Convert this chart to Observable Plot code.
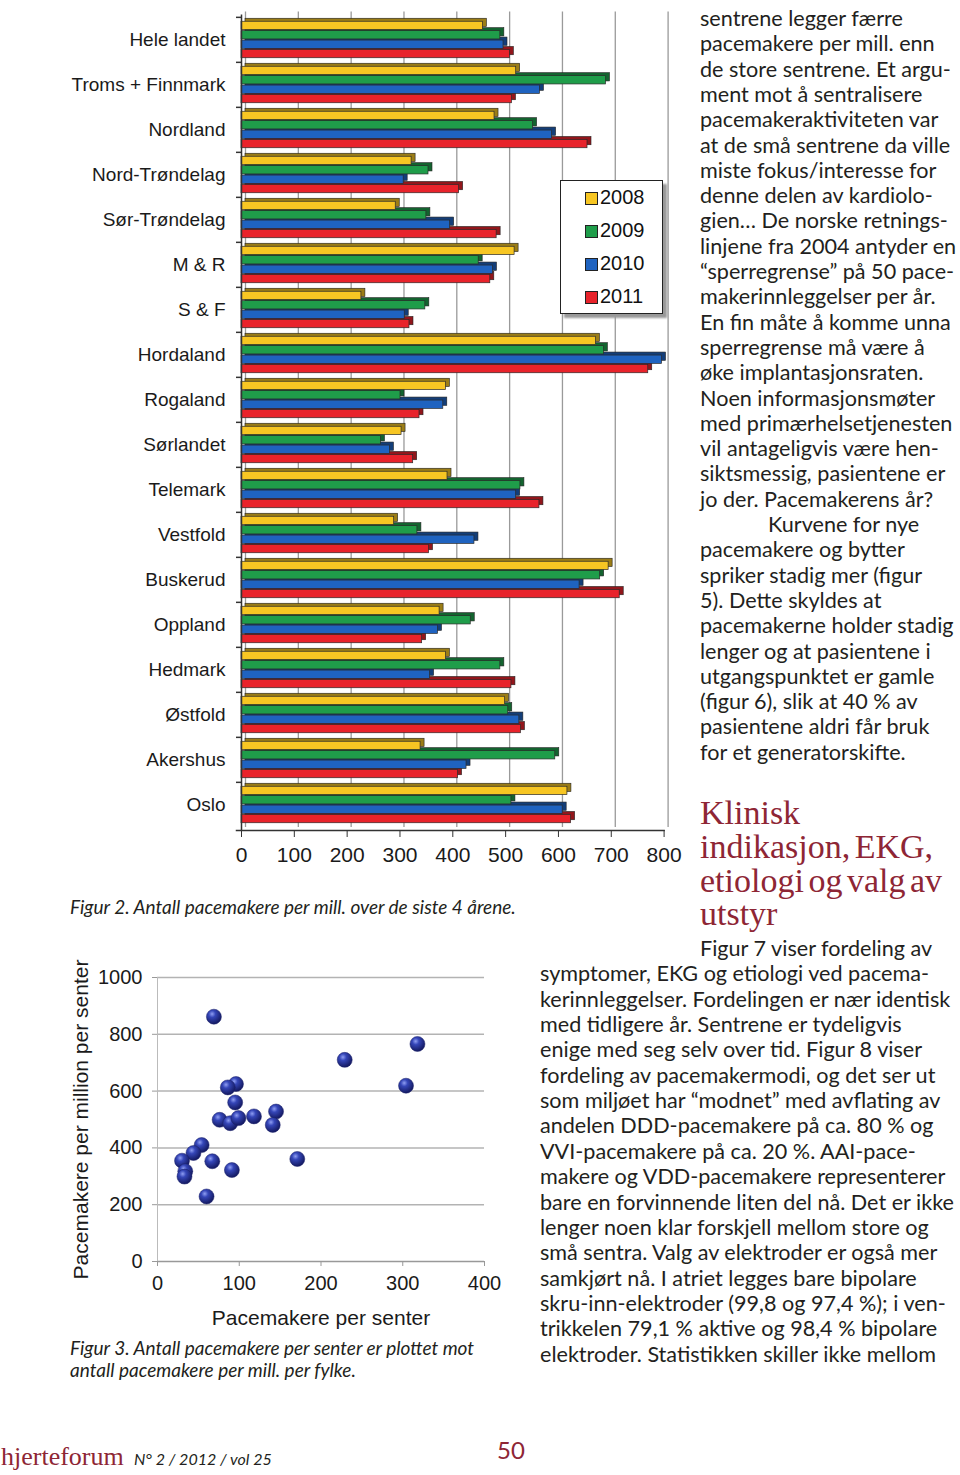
<!DOCTYPE html>
<html><head><meta charset="utf-8">
<script src="https://cdn.jsdelivr.net/npm/d3@7"></script>
<script src="https://cdn.jsdelivr.net/npm/@observablehq/plot@0.6"></script>
<style>
html,body{margin:0;padding:0;background:#fff;}
#page{position:relative;width:960px;height:1475px;overflow:hidden;background:#fff;}
.abs{position:absolute;}
.line{position:absolute;white-space:nowrap;font-family:Lato,"Open Sans",sans-serif;font-size:21.6px;color:#231f20;line-height:25px;}
.head{position:absolute;white-space:nowrap;font-family:"Liberation Serif","DejaVu Serif",serif;font-size:34px;color:#8e2635;line-height:33px;word-spacing:-4px;}
.cap{position:absolute;white-space:nowrap;font-family:Lato,"Open Sans",sans-serif;font-style:italic;font-size:19px;color:#231f20;line-height:22px;}
#legend{position:absolute;left:560px;top:180px;width:101px;height:132px;border:1.5px solid #222;background:#fff;box-shadow:4px 4px 2px #999;font-family:"Liberation Sans",Arial,sans-serif;font-size:20px;color:#111;}
.li{position:absolute;left:24px;height:24px;line-height:24px;}
.sw{display:inline-block;width:11px;height:11px;border:1.5px solid #222;margin-right:2px;vertical-align:-1px;}
</style></head>
<body><div id="page"></div>
<script>
// ---------- Figure 2 data ----------
const regions = ["Hele landet","Troms + Finnmark","Nordland","Nord-Trøndelag","Sør-Trøndelag","M & R","S & F","Hordaland","Rogaland","Sørlandet","Telemark","Vestfold","Buskerud","Oppland","Hedmark","Østfold","Akershus","Oslo"];
const years = ["2008","2009","2010","2011"];
const v2008 = [457,520,479,322,292,517,227,671,387,303,390,289,695,375,387,499,339,617];
const v2009 = [490,690,552,354,350,449,348,686,301,264,528,333,679,434,490,505,594,511];
const v2010 = [496,565,588,307,395,476,309,796,382,281,520,441,640,372,357,526,426,608];
const v2011 = [508,512,655,412,483,471,318,770,337,325,564,355,716,342,511,529,410,624];
const yearColors = ["#f7c623","#1f9d4a","#1f63c0","#e8232b"];
const xTicks = [0,100,200,300,400,500,600,700,800];

// ---------- Figure 3 data ----------
const perCenter = [69,318,229,304,96,86,95,76,89,99,118,145,141,54,44,30,67,171,91,34,33,60];
const perMill   = [862,766,710,619,625,613,560,499,487,505,511,528,481,410,382,355,353,361,322,318,299,229];
const yTicks3 = [0,200,400,600,800,1000];
const xTicks3 = [0,100,200,300,400];

// ---------- Text ----------
const col1 = ["sentrene legger færre","pacemakere per mill. enn","de store sentrene. Et argu-","ment mot å sentralisere","pacemakeraktiviteten var","at de små sentrene da ville","miste fokus/interesse for","denne delen av kardiolo-","gien… De norske retnings-","linjene fra 2004 antyder en","“sperregrense” på 50 pace-","makerinnleggelser per år.","En fin måte å komme unna","sperregrense må være å","øke implantasjonsraten.","Noen informasjonsmøter","med primærhelsetjenesten","vil antageligvis være hen-","siktsmessig, pasientene er","jo der. Pacemakerens år?","Kurvene for nye","pacemakere og bytter","spriker stadig mer (figur","5). Dette skyldes at","pacemakerne holder stadig","lenger og at pasientene i","utgangspunktet er gamle","(figur 6), slik at 40 % av","pasientene aldri får bruk","for et generatorskifte."];
const headLines = ["Klinisk","indikasjon, EKG,","etiologi og valg av","utstyr"];
const col2 = ["Figur 7 viser fordeling av","symptomer, EKG og etiologi ved pacema-","kerinnleggelser. Fordelingen er nær identisk","med tidligere år. Sentrene er tydeligvis","enige med seg selv over tid. Figur 8 viser","fordeling av pacemakermodi, og det ser ut","som miljøet har “modnet” med avflating av","andelen DDD-pacemakere på ca. 80 % og","VVI-pacemakere på ca. 20 %. AAI-pace-","makere og VDD-pacemakere representerer","bare en forvinnende liten del nå. Det er ikke","lenger noen klar forskjell mellom store og","små sentra. Valg av elektroder er også mer","samkjørt nå. I atriet legges bare bipolare","skru-inn-elektroder (99,8 og 97,4 %); i ven-","trikkelen 79,1 % aktive og 98,4 % bipolare","elektroder. Statistikken skiller ikke mellom"];
const cap2 = "Figur 2. Antall pacemakere per mill. over de siste 4 årene.";
const cap3 = ["Figur 3. Antall pacemakere per senter er plottet mot","antall pacemakere per mill. per fylke."];

const page = document.getElementById("page");
function add(html){ const d=document.createElement("div"); d.innerHTML=html; const el=d.firstChild; page.appendChild(el); return el; }

// ---------- Figure 2 (bar chart) ----------
const series = [v2008,v2009,v2010,v2011];
const barData = regions.flatMap((r,i)=>years.map((y,j)=>({region:r, year:y, value:series[j][i]})));
const top2 = 14.5, bottom2 = 830, mb2 = 42;
const bw = (bottom2-top2)/regions.length;
const slot = 9.4, face = 8.6;
const barMarks = [];
for (let j = years.length-1; j >= 0; j--) {
  const yr = years[j];
  const inset = (bw-face)/2;
  const dy = (j-1.5)*slot;
  const c = yearColors[j];
  const dark = d3.color(c).darker(1.3).formatHex();
  barMarks.push(Plot.barX(barData.filter(d=>d.year===yr), {x:"value", y:"region", insetTop:inset, insetBottom:inset, dy:dy-3, dx:4, fill:dark, stroke:"#222", strokeWidth:0.6}));
  barMarks.push(Plot.barX(barData.filter(d=>d.year===yr), {x:"value", y:"region", insetTop:inset, insetBottom:inset, dy:dy, fill:c, stroke:"#2a2a2a", strokeWidth:0.7}));
}
const fig2 = Plot.plot({
  width:630, height:bottom2+mb2, marginLeft:181, marginRight:26.4, marginTop:top2, marginBottom:mb2,
  x:{domain:[0,800]},
  y:{domain:regions, padding:0},
  style:{fontFamily:"'Liberation Sans', Arial, sans-serif", fontSize:"19px", color:"#1a1a1a", background:"transparent", overflow:"visible"},
  marks:[
    Plot.ruleX(xTicks, {dx:4, dy:-3, stroke:"#9a9a9a", strokeWidth:1.3}),
    ...barMarks,
    Plot.ruleX([0], {stroke:"#333", strokeWidth:1.5}),
    Plot.ruleY(regions, {y:d=>d, dy:-bw/2, x1:0, x2:0, insetLeft:-5, stroke:"#333", strokeWidth:1.5}),
    Plot.frame({anchor:"bottom", stroke:"#333", strokeWidth:1.5, insetLeft:-5}),
    Plot.axisX({ticks:xTicks, tickSize:7, tickPadding:10, fontSize:21, label:null, stroke:"#333"}),
    Plot.axisY({tickSize:0, tickPadding:16, fontSize:19, label:null})
  ]
});
fig2.style.position="absolute"; fig2.style.left="60px"; fig2.style.top="0px";
page.appendChild(fig2);

// legend
const leg = add('<div id="legend"></div>');
years.forEach((y,j)=>{
  const it=document.createElement("div"); it.className="li"; it.style.top=(4+j*33)+"px";
  it.innerHTML='<span class="sw" style="background:'+yearColors[j]+'"></span>'+y;
  leg.appendChild(it);
});

// caption fig 2
add('<div class="cap" style="left:70px;top:896px">'+cap2+'</div>');

// ---------- Figure 3 (scatter) ----------
const pts = perCenter.map((x,i)=>({x, y:perMill[i]}));
const fig3 = Plot.plot({
  width:450, height:400, marginLeft:97, marginRight:26, marginTop:37, marginBottom:79,
  x:{domain:[0,400]},
  y:{domain:[0,1000]},
  style:{fontFamily:"'Liberation Sans', Arial, sans-serif", fontSize:"20px", color:"#1a1a1a", background:"transparent", overflow:"visible"},
  marks:[
    Plot.gridY([200,400,600,800,1000], {stroke:"#b3b3b3", strokeOpacity:1, strokeWidth:1.5}),
    Plot.ruleY([0], {stroke:"#999", strokeWidth:1.5}),
    Plot.ruleX([0], {stroke:"#bbb", strokeWidth:1}),
    Plot.axisX({ticks:xTicks3, tickSize:5, tickPadding:9, fontSize:20, stroke:"#999", label:"Pacemakere per senter", labelAnchor:"center", labelArrow:"none", labelOffset:63}),
    Plot.axisY({ticks:yTicks3, tickFormat:d3.format("d"), tickSize:5, tickPadding:10, fontSize:20, stroke:"#999", label:"Pacemakere per million per senter", labelAnchor:"center", labelArrow:"none", labelOffset:84}),
    Plot.dot(pts, {x:"x", y:"y", r:7.5, fill:"url(#ball)", stroke:"#1b2168", strokeWidth:0.5})
  ]
});
const defs = d3.select(fig3).insert("defs", ":first-child");
const g = defs.append("radialGradient").attr("id","ball").attr("cx","38%").attr("cy","32%").attr("r","65%");
g.append("stop").attr("offset","0%").attr("stop-color","#8f9ef2");
g.append("stop").attr("offset","35%").attr("stop-color","#3546b8");
g.append("stop").attr("offset","100%").attr("stop-color","#161c66");
fig3.style.position="absolute"; fig3.style.left="60px"; fig3.style.top="940px";
page.appendChild(fig3);
d3.select(fig3).selectAll("g[aria-label='x-axis label'] text, g[aria-label='y-axis label'] text").attr("font-size","21px");

add('<div class="cap" style="left:70px;top:1337px">'+cap3.join("<br>")+'</div>');

// ---------- Body text ----------
col1.forEach((t,i)=>{
  const left = (t==="Kurvene for nye") ? 768 : 700;
  add('<div class="line" style="left:'+left+'px;top:'+(6+i*25.3)+'px">'+t+'</div>');
});
headLines.forEach((t,i)=>add('<div class="head" style="left:700px;top:'+(796+i*33.8)+'px">'+t+'</div>'));
col2.forEach((t,i)=>{
  const left = i===0 ? 700 : 540;
  add('<div class="line" style="left:'+left+'px;top:'+(936+i*25.35)+'px">'+t+'</div>');
});

// ---------- Footer ----------
add('<div class="abs" style="left:1px;top:1442px;font-family:\'Liberation Serif\',serif;font-size:26px;color:#8e2635;white-space:nowrap">hjerteforum</div>');
add('<div class="abs" style="left:134px;top:1449px;font-family:Lato,sans-serif;font-style:italic;font-size:16px;color:#231f20;white-space:nowrap">N° 2 / 2012 / vol 25</div>');
add('<div class="abs" style="left:497px;top:1435px;font-family:Lato,sans-serif;font-size:24px;color:#8e2635;white-space:nowrap">50</div>');
</script></body></html>
